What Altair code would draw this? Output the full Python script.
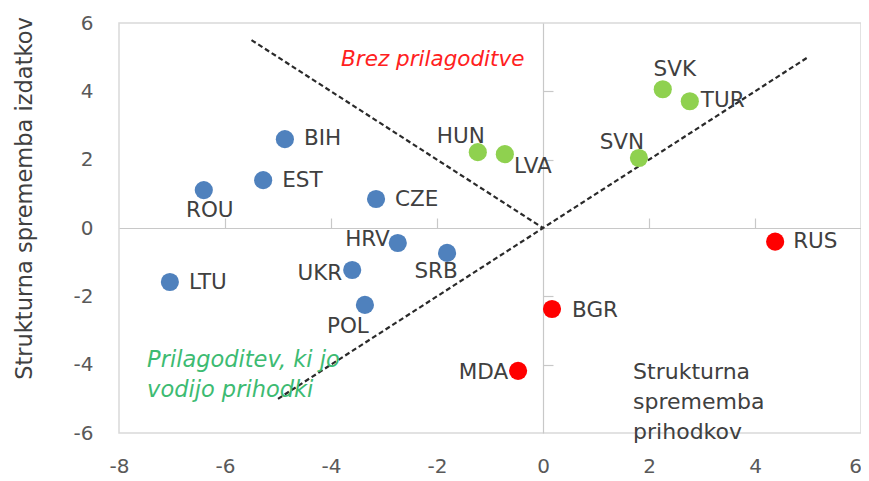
import altair as alt
import pandas as pd

# ---- data ----
countries = ["BIH", "ROU", "EST", "CZE", "HRV", "SRB", "UKR", "LTU", "POL",
             "HUN", "LVA", "SVN", "SVK", "TUR", "RUS", "BGR", "MDA"]
x_vals = [-4.87, -6.40, -5.28, -3.15, -2.74, -1.81, -3.60, -7.04, -3.36,
          -1.23, -0.72, 1.81, 2.26, 2.77, 4.38, 0.17, -0.47]
y_vals = [2.60, 1.11, 1.40, 0.85, -0.44, -0.73, -1.23, -1.58, -2.25,
          2.22, 2.16, 2.05, 4.06, 3.71, -0.40, -2.37, -4.18]
groups = ["blue"] * 9 + ["green"] * 5 + ["red"] * 3

x_ticks = [-8, -6, -4, -2, 0, 2, 4, 6]
y_ticks = [-6, -4, -2, 0, 2, 4, 6]

line_id = ["a", "a", "b", "b"]
line_x = [-5.5, 0.0, -5.0, 5.0]
line_y = [5.5, 0.0, -5.0, 5.0]

# ---- styling (label placement in pixels) ----
label_style = {
    "BIH": ("left", 19, 0), "ROU": ("center", 6, 21), "EST": ("left", 19, 1),
    "CZE": ("left", 19, 1), "HRV": ("right", -8, -3), "SRB": ("center", -11, 19),
    "UKR": ("right", -10, 4), "LTU": ("left", 19, 1), "POL": ("center", -17, 22),
    "HUN": ("center", -17, -15), "LVA": ("center", 28, 13), "SVN": ("center", -17, -15),
    "SVK": ("center", 12, -19), "TUR": ("left", 11, 0), "RUS": ("left", 18, 0),
    "BGR": ("left", 20, 2), "MDA": ("right", -10, 2),
}
color_map = {"blue": "#4f81bd", "green": "#8fd14f", "red": "#ff0000"}
FONT = "DejaVu Sans"
LBL = 21.5
W, H = 742, 410
X0 = W * 8 / 14  # pixel position of x = 0

df = pd.DataFrame({"country": countries, "x": x_vals, "y": y_vals, "group": groups})
lines = pd.DataFrame({"id": line_id, "x": line_x, "y": line_y})

xs = alt.Scale(domain=[-8, 6], nice=False, zero=False)
ys = alt.Scale(domain=[-6, 6], nice=False, zero=False)

base_x = alt.X("x:Q", scale=xs, axis=alt.Axis(
    values=x_ticks, grid=False, domain=False, ticks=False, labelPadding=23,
    labelFontSize=20, labelColor="#595959", labelFont=FONT, title=None,
    labelFlush=False, labelExpr="datum.value + ''",
    labelOffset={"condition": {"test": "datum.value === 6", "value": -6}, "value": 0}))
base_y = alt.Y("y:Q", scale=ys, axis=alt.Axis(
    values=y_ticks, grid=False, domain=False, ticks=False, labelPadding=26,
    labelFontSize=20, labelColor="#595959", labelFont=FONT,
    labelExpr="datum.value + ''",
    title="Strukturna sprememba izdatkov", titleFont=FONT, titleFontSize=22.5,
    titleFontWeight="normal", titleColor="#404040", titleAngle=-90,
    titleX=-95, titleY=175, titleAlign="center", titleBaseline="middle",
    labelFlush=False))

# axes acting as the zero lines with small ticks
zero_x = alt.X("x:Q", scale=xs, axis=alt.Axis(
    orient="top", offset=-(H / 2), values=[-6, -4, -2, 2, 4], labels=False,
    grid=False, domain=True, domainColor="#c8c8c8", domainWidth=1.2,
    ticks=True, tickSize=10, tickColor="#c8c8c8", tickWidth=1.2, title=None))
zero_y = alt.Y("y:Q", scale=ys, axis=alt.Axis(
    orient="right", offset=-(W - X0), values=[-4, -2, 2, 4], labels=False,
    grid=False, domain=True, domainColor="#c8c8c8", domainWidth=1.2,
    ticks=True, tickSize=10, tickColor="#c8c8c8", tickWidth=1.2, title=None))

zero_layer = alt.Chart(lines).mark_point(opacity=0).encode(x=zero_x, y=zero_y)

dash = alt.Chart(lines).mark_line(strokeDash=[5, 3], color="#2a2a2a", strokeWidth=2.2).encode(
    x=base_x, y=base_y, detail="id:N")

pts = alt.Chart(df).mark_circle(size=330, opacity=1).encode(
    x=alt.X("x:Q", scale=xs, axis=None), y=alt.Y("y:Q", scale=ys, axis=None),
    color=alt.Color("group:N", scale=alt.Scale(domain=list(color_map.keys()),
                                               range=list(color_map.values())), legend=None))

label_layers = []
for c, (al, dx, dy) in label_style.items():
    sub = df[df["country"] == c]
    label_layers.append(
        alt.Chart(sub).mark_text(align=al, baseline="middle", dx=dx, dy=dy,
                                 font=FONT, fontSize=LBL, color="#404040").encode(
            x=alt.X("x:Q", scale=xs, axis=None), y=alt.Y("y:Q", scale=ys, axis=None),
            text="country:N"))

ann = pd.DataFrame({
    "text": ["Brez prilagoditve", "Prilagoditev, ki jo", "vodijo prihodki",
             "Strukturna", "sprememba", "prihodkov"],
    "x": [-2.08, -7.47, -7.47, 1.70, 1.70, 1.70],
    "y": [4.91, -3.86, -4.74, -4.21, -5.10, -5.96],
    "kind": ["red", "green", "green", "dark", "dark", "dark"],
})

ann_red = alt.Chart(ann[ann.kind == "red"]).mark_text(
    align="center", baseline="middle", font=FONT, fontSize=21.5, fontStyle="italic",
    color="#ff2020").encode(x=alt.X("x:Q", scale=xs, axis=None),
                            y=alt.Y("y:Q", scale=ys, axis=None), text="text:N")
ann_green = alt.Chart(ann[ann.kind == "green"]).mark_text(
    align="left", baseline="middle", font=FONT, fontSize=22.5, fontStyle="italic",
    color="#3dbb72").encode(x=alt.X("x:Q", scale=xs, axis=None),
                            y=alt.Y("y:Q", scale=ys, axis=None), text="text:N")
ann_dark = alt.Chart(ann[ann.kind == "dark"]).mark_text(
    align="left", baseline="middle", font=FONT, fontSize=22,
    color="#404040").encode(x=alt.X("x:Q", scale=xs, axis=None),
                            y=alt.Y("y:Q", scale=ys, axis=None), text="text:N")

chart = alt.layer(
    zero_layer, dash, pts, *label_layers, ann_red, ann_green, ann_dark
).resolve_axis(x="independent", y="independent").properties(
    width=W, height=H,
    autosize=alt.AutoSizeParams(type="none"),
    padding={"left": 111, "top": 15, "right": 0, "bottom": 50},
).configure_view(stroke="#d9d9d9", strokeWidth=1.5)

chart.save("out.html", embed_options={"renderer": "svg", "actions": False})
